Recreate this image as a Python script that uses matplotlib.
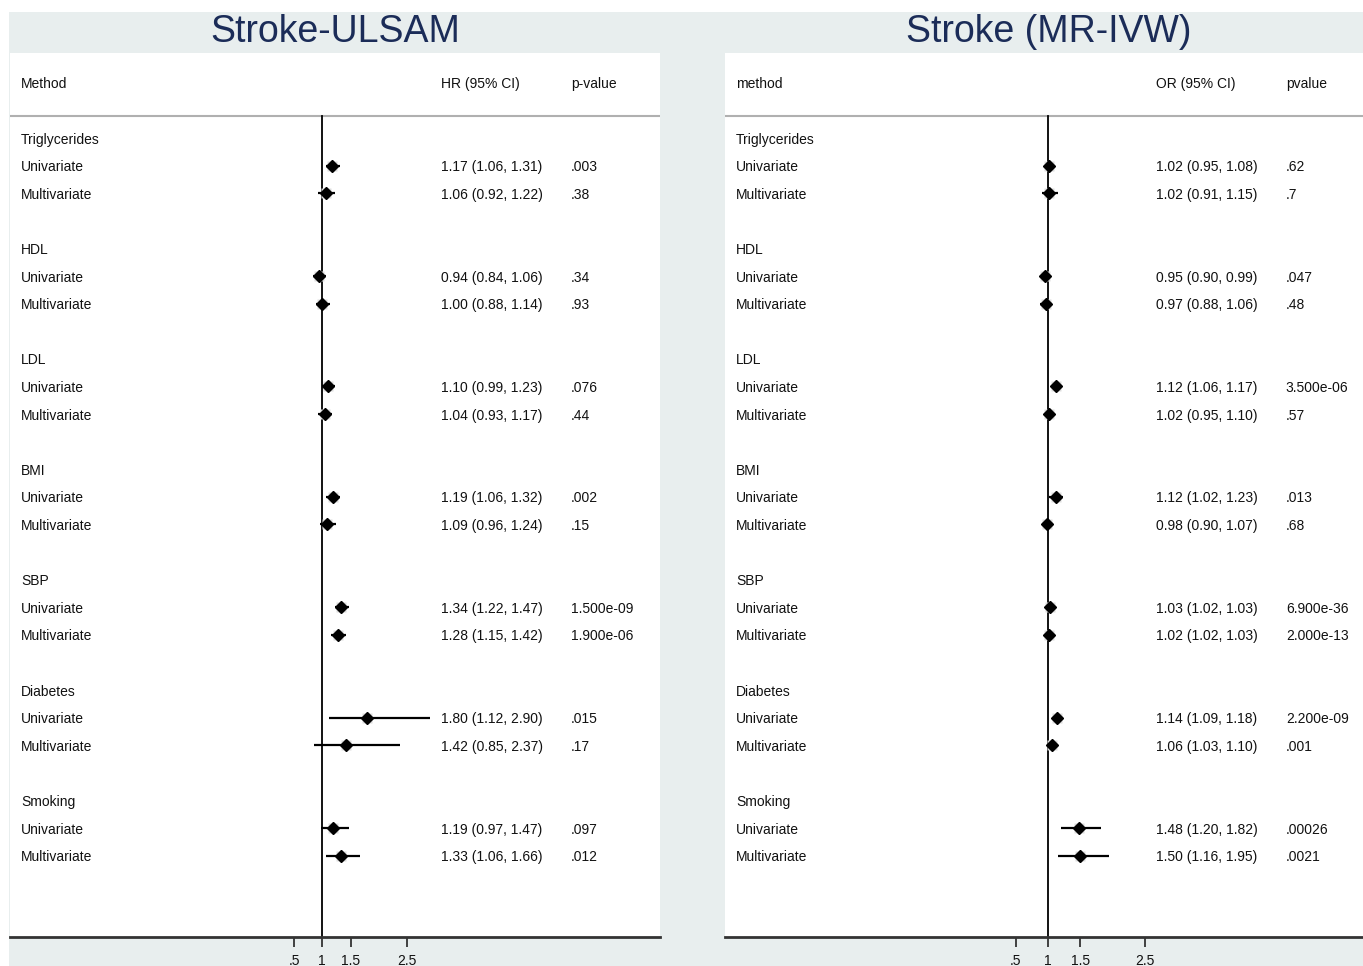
import matplotlib
matplotlib.use("Agg")
import matplotlib.pyplot as plt
from matplotlib.patches import Rectangle

plt.rcParams['font.family'] = ['Liberation Sans', 'DejaVu Sans']

groups = ["Triglycerides", "HDL", "LDL", "BMI", "SBP", "Diabetes", "Smoking"]
methods = ["Univariate", "Multivariate"]

# Stroke-ULSAM (HR)
ulsam_est = [1.17, 1.06, 0.94, 1.00, 1.10, 1.04, 1.19, 1.09, 1.34, 1.28, 1.80, 1.42, 1.19, 1.33]
ulsam_lo = [1.06, 0.92, 0.84, 0.88, 0.99, 0.93, 1.06, 0.96, 1.22, 1.15, 1.12, 0.85, 0.97, 1.06]
ulsam_hi = [1.31, 1.22, 1.06, 1.14, 1.23, 1.17, 1.32, 1.24, 1.47, 1.42, 2.90, 2.37, 1.47, 1.66]
ulsam_p = [".003", ".38", ".34", ".93", ".076", ".44", ".002", ".15",
           "1.500e-09", "1.900e-06", ".015", ".17", ".097", ".012"]

# Stroke MR-IVW (OR)
mr_est = [1.02, 1.02, 0.95, 0.97, 1.12, 1.02, 1.12, 0.98, 1.03, 1.02, 1.14, 1.06, 1.48, 1.50]
mr_lo = [0.95, 0.91, 0.90, 0.88, 1.06, 0.95, 1.02, 0.90, 1.02, 1.02, 1.09, 1.03, 1.20, 1.16]
mr_hi = [1.08, 1.15, 0.99, 1.06, 1.17, 1.10, 1.23, 1.07, 1.03, 1.03, 1.18, 1.10, 1.82, 1.95]
mr_p = [".62", ".7", ".047", ".48", "3.500e-06", ".57", ".013", ".68",
        "6.900e-36", "2.000e-13", "2.200e-09", ".001", ".00026", ".0021"]

xticks = [0.5, 1, 1.5, 2.5]
xticklabels = [".5", "1", "1.5", "2.5"]

W, H = 1363, 966
fig = plt.figure(figsize=(W / 100, H / 100), dpi=100)
fig.patch.set_facecolor('white')
bg = '#e8eeee'
fig.add_artist(Rectangle((9 / W, 0), 1 - 9 / W, 1 - 12 / H, transform=fig.transFigure,
                         facecolor=bg, edgecolor='none', zorder=0))

TITLE_C = '#1b2c58'
TXT_C = '#111111'
FS = 10
DY = 0.06


def panel(left_px, right_px, xlim, title, title_cx, headers, est, lo, hi, pv, colx):
    ax = fig.add_axes([left_px / W, (966 - 937) / H, (right_px - left_px) / W, (937 - 53) / H])
    ax.set_facecolor('white')
    ax.set_xlim(*xlim)
    ax.set_ylim(28.95, -3.08)
    for s in ['top', 'left', 'right']:
        ax.spines[s].set_visible(False)
    ax.spines['bottom'].set_color('#333333')
    ax.spines['bottom'].set_linewidth(2)
    ax.set_yticks([])
    ax.set_xticks(xticks)
    ax.set_xticklabels(xticklabels, fontsize=10, color=TXT_C)
    ax.tick_params(axis='x', direction='out', length=7, width=1.3, color='#333333', pad=5)

    tr = ax.get_yaxis_transform()
    y_head = -2.0 + DY
    for cx, h in zip(colx, headers):
        ax.text(cx, y_head, h, transform=tr, fontsize=FS, color=TXT_C, va='center', ha='left')
    ax.axhline(-0.8, color='#b0b0b0', lw=1.5, zorder=1)
    ax.plot([1, 1], [-0.8, 28.95], color='black', lw=1.3, zorder=2)

    k = 0
    for gi, g in enumerate(groups):
        yg = gi * 4
        ax.text(colx[0], yg + DY, g, transform=tr, fontsize=FS, color=TXT_C, va='center', ha='left')
        for mi, m in enumerate(methods):
            y = yg + 1 + mi
            ax.text(colx[0], y + DY, m, transform=tr, fontsize=FS, color=TXT_C,
                    va='center', ha='left')
            ax.text(colx[1], y + DY, f"{est[k]:.2f} ({lo[k]:.2f}, {hi[k]:.2f})",
                    transform=tr, fontsize=FS, color=TXT_C, va='center', ha='left')
            ax.text(colx[2], y + DY, pv[k], transform=tr, fontsize=FS, color=TXT_C,
                    va='center', ha='left')
            ax.plot([lo[k], hi[k]], [y, y], color='black', lw=1.6, zorder=3,
                    solid_capstyle='butt')
            ax.plot(est[k], y, marker='s', ms=7.5, color='#dcdcdc', mec='none', zorder=3.5)
            ax.plot(est[k], y, marker='D', ms=6, color='black', mec='black', zorder=4)
            k += 1

    fig.text(title_cx / W, 1 - 42 / H, title, ha='center', va='baseline',
             fontsize=27, color=TITLE_C)
    return ax


panel(10, 660, (-4.527, 6.977), "Stroke-ULSAM", 335, ["Method", "HR (95% CI)", "p-value"],
      ulsam_est, ulsam_lo, ulsam_hi, ulsam_p, [0.017, 0.663, 0.863])
panel(725, 1363, (-4.008, 5.884), "Stroke (MR-IVW)", 1049, ["method", "OR (95% CI)", "pvalue"],
      mr_est, mr_lo, mr_hi, mr_p, [0.017, 0.676, 0.879])

fig.savefig("out.png", dpi=100, facecolor=fig.get_facecolor())
